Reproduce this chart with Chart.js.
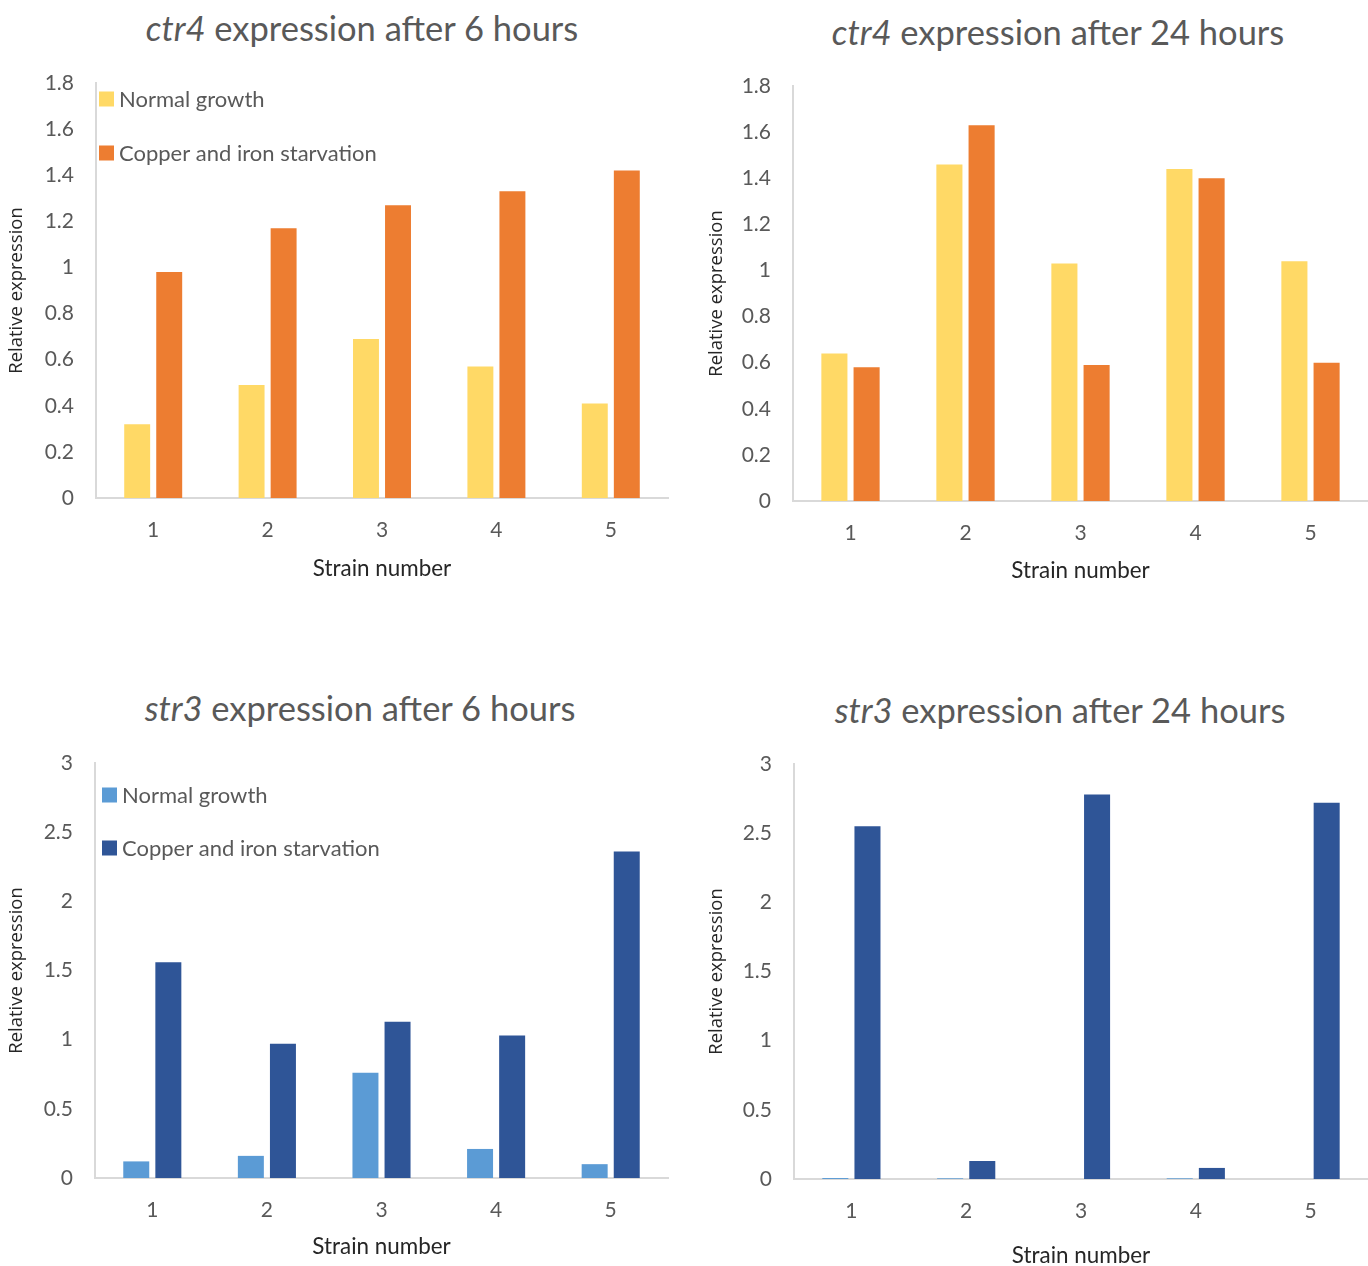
<!DOCTYPE html>
<html>
<head>
<meta charset="utf-8">
<script src="https://cdn.jsdelivr.net/npm/chart.js@4.4.0/dist/chart.umd.min.js"></script>
<style>
  body { margin: 0; background: #fff; width: 1368px; height: 1266px; position: relative; overflow: hidden; font-family: Lato, sans-serif; }
  .panel { position: absolute; }
  .title { position: absolute; transform: translateX(-50%); white-space: nowrap; font-size: 34.5px; line-height: 40px; color: #595959; }
</style>
</head>
<body>
<div class="title" style="left:362px; top:8px"><i>ctr4</i> expression after 6 hours</div>
<div class="title" style="left:1058px; top:12px"><i>ctr4</i> expression after 24 hours</div>
<div class="title" style="left:360px; top:688px"><i>str3</i> expression after 6 hours</div>
<div class="title" style="left:1060px; top:690px"><i>str3</i> expression after 24 hours</div>

<div class="panel" style="left:0; top:60px"><canvas id="c1" width="684" height="540"></canvas></div>
<div class="panel" style="left:684px; top:60px"><canvas id="c2" width="684" height="540"></canvas></div>
<div class="panel" style="left:0; top:740px"><canvas id="c3" width="684" height="526"></canvas></div>
<div class="panel" style="left:684px; top:740px"><canvas id="c4" width="684" height="526"></canvas></div>

<script>
const strains = ['1', '2', '3', '4', '5'];
const seriesNames = ['Normal growth', 'Copper and iron starvation'];

const ctr4Normal6h = [0.32, 0.49, 0.69, 0.57, 0.41];
const ctr4Starved6h = [0.98, 1.17, 1.27, 1.33, 1.42];
const ctr4Normal24h = [0.64, 1.46, 1.03, 1.44, 1.04];
const ctr4Starved24h = [0.58, 1.63, 0.59, 1.40, 0.60];
const str3Normal6h = [0.12, 0.16, 0.76, 0.21, 0.10];
const str3Starved6h = [1.56, 0.97, 1.13, 1.03, 2.36];
const str3Normal24h = [0.007, 0.005, 0, 0.005, 0];
const str3Starved24h = [2.55, 0.13, 2.78, 0.08, 2.72];

const ctr4Axis = { max: 1.8, step: 0.2 };
const str3Axis = { max: 3, step: 0.5 };

const ctr4Colors = ['#FFD966', '#ED7D31'];
const str3Colors = ['#5B9BD5', '#2F5597'];

// legend drawn inside the plot area, stacked in the top-left corner
const insideLegend = {
    id: 'insideLegend',
    afterDraw(chart, args, opts) {
        if (!opts.show) return;
        const { ctx, chartArea } = chart;
        ctx.save();
        ctx.font = '22px Lato';
        ctx.textBaseline = 'middle';
        chart.data.datasets.forEach((ds, i) => {
            const x = chartArea.left + opts.left;
            const y = chartArea.top + opts.top + i * opts.gap;
            ctx.fillStyle = ds.backgroundColor;
            ctx.fillRect(x, y - 7.5, 15, 15);
            ctx.fillStyle = '#595959';
            ctx.fillText(ds.label, x + 20, y + 1);
        });
        ctx.restore();
    }
};

function buildChart(id, normal, starved, colors, axis, box) {
    const ctx = document.getElementById(id).getContext('2d');
    return new Chart(ctx, {
        type: 'bar',
        data: {
            labels: strains,
            datasets: [{
                label: seriesNames[0],
                data: normal,
                backgroundColor: colors[0],
                categoryPercentage: box.catPct,
                barPercentage: 0.81
            }, {
                label: seriesNames[1],
                data: starved,
                backgroundColor: colors[1],
                categoryPercentage: box.catPct,
                barPercentage: 0.81
            }]
        },
        options: {
            responsive: false,
            animation: false,
            layout: {
                padding: { left: 0, top: box.padTop, right: box.padRight, bottom: 0 }
            },
            scales: {
                x: {
                    grid: { display: false, drawTicks: false },
                    border: { color: '#D9D9D9', width: 2 },
                    ticks: { color: '#595959', font: { family: 'Lato', size: 21 }, padding: 20 },
                    title: {
                        display: true,
                        text: 'Strain number',
                        color: '#262626',
                        font: { family: 'Lato', size: 22.4 },
                        padding: { top: box.xTitlePad, bottom: box.xTitlePad }
                    },
                    afterFit(scale) { scale.height = box.xHeight; }
                },
                y: {
                    min: 0,
                    max: axis.max,
                    grid: { display: false, drawTicks: false },
                    border: { color: '#D9D9D9', width: 2 },
                    ticks: {
                        stepSize: axis.step,
                        color: '#595959',
                        font: { family: 'Lato', size: 21 },
                        padding: 22,
                        callback: value => String(+value.toFixed(1))
                    },
                    title: {
                        display: true,
                        text: 'Relative expression',
                        color: '#262626',
                        font: { family: 'Open Sans', size: 18.5 },
                        padding: { top: box.yTitlePad, bottom: box.yTitlePad }
                    },
                    afterFit(scale) {
                        scale.width = box.yWidth;
                        // keep the plot top on the layout padding, not on the label overhang
                        scale.paddingTop = 0;
                        scale.paddingBottom = 0;
                    }
                }
            },
            plugins: {
                legend: { display: false },
                tooltip: { enabled: false },
                insideLegend: box.legend
            }
        },
        plugins: [insideLegend]
    });
}

buildChart('c1', ctr4Normal6h, ctr4Starved6h, ctr4Colors, ctr4Axis, {
    yWidth: 96, xHeight: 102, padTop: 23, padRight: 16, catPct: 0.56,
    yTitlePad: 6, xTitlePad: 17.5,
    legend: { show: true, left: 3, top: 16, gap: 54 }
});
buildChart('c2', ctr4Normal24h, ctr4Starved24h, ctr4Colors, ctr4Axis, {
    yWidth: 109, xHeight: 99, padTop: 26, padRight: 0, catPct: 0.56,
    yTitlePad: 22, xTitlePad: 15.5,
    legend: { show: false }
});
buildChart('c3', str3Normal6h, str3Starved6h, str3Colors, str3Axis, {
    yWidth: 95, xHeight: 88, padTop: 23, padRight: 16, catPct: 0.56,
    yTitlePad: 6, xTitlePad: 5.5,
    legend: { show: true, left: 7, top: 32, gap: 53 }
});
buildChart('c4', str3Normal24h, str3Starved24h, str3Colors, str3Axis, {
    yWidth: 110, xHeight: 87, padTop: 24, padRight: 0, catPct: 0.56,
    yTitlePad: 22, xTitlePad: -3,
    legend: { show: false }
});
</script>
</body>
</html>
